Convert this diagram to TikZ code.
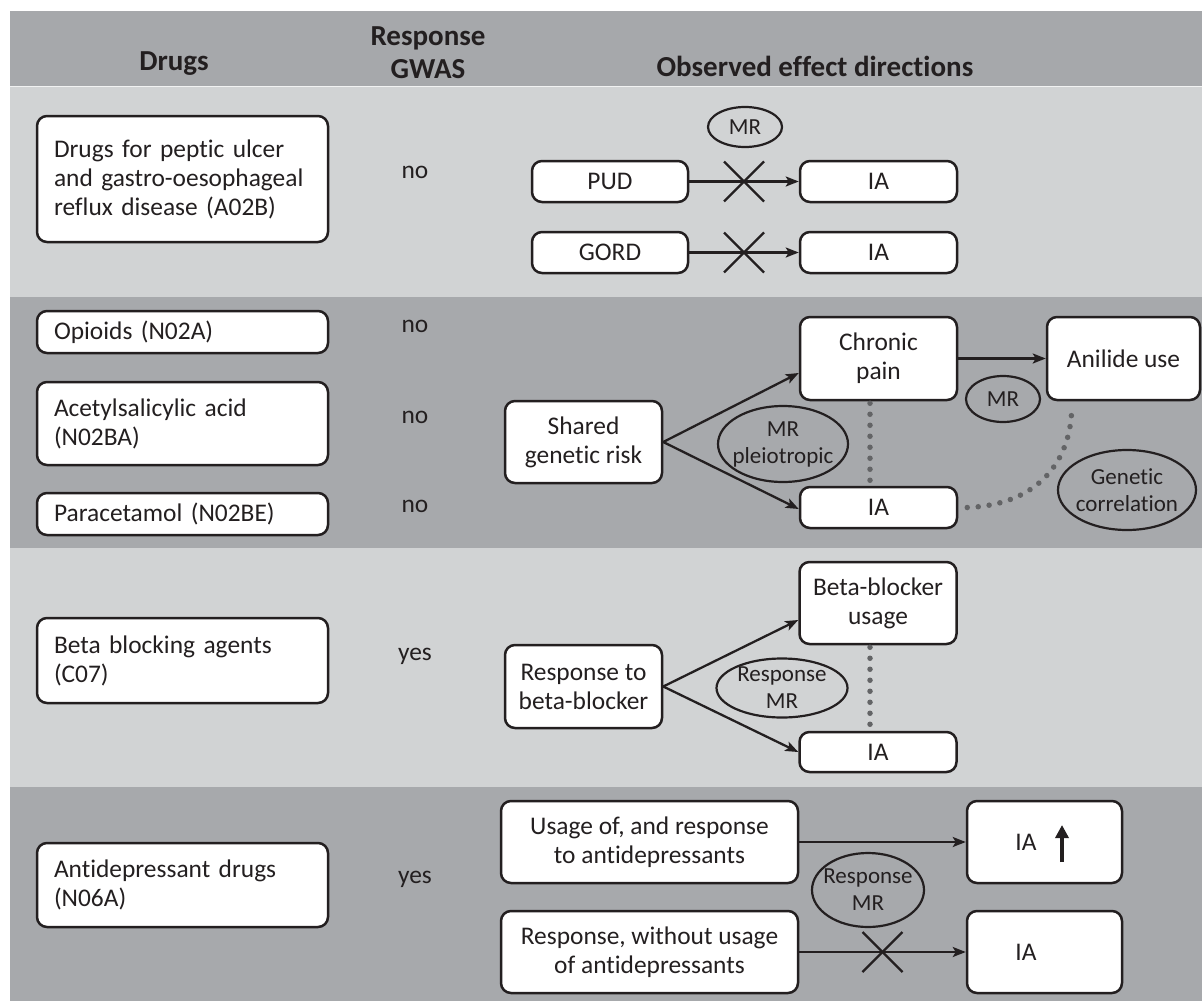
\documentclass[tikz,border=0pt]{standalone}
\usepackage{fontspec}
\setmainfont{Carlito}[Ligatures={NoCommon,NoContextual,NoRare},Contextuals={NoAlternate}]
\usetikzlibrary{arrows.meta,shapes.geometric,calc}
\definecolor{ink}{HTML}{231F20}
\definecolor{lightband}{HTML}{D1D3D4}
\definecolor{darkband}{HTML}{A7A9AC}
\definecolor{headband}{HTML}{A6A8AB}
\definecolor{dotgray}{HTML}{636466}
\begin{document}
\begin{tikzpicture}[x=1pt,y=-1pt,
  box/.style={draw=ink, line width=2.5pt, fill=white, rounded corners=10pt, inner sep=0pt, align=center, text=ink, font=\fontsize{25.4}{29}\selectfont},
  drugbox/.style={box, align=left, minimum width=291pt, text width=257pt},
  ell/.style={draw=ink, line width=2.2pt, ellipse, inner sep=-20pt, align=center, text=ink, font=\fontsize{23}{27}\selectfont},
  arr/.style={draw=ink, line width=2.3pt, -{Stealth[length=13pt,width=10pt,inset=3pt]}},
  dots/.style={draw=dotgray, line width=5.5pt, line cap=round, dash pattern=on 0pt off 11pt},
  cross/.style={draw=ink, line width=2.2pt},
  hdr/.style={font=\bfseries\fontsize{29}{32}\selectfont, text=ink, anchor=base},
  ans/.style={font=\fontsize{25.4}{29}\selectfont, text=ink, anchor=base},
  lbl/.style={font=\fontsize{25.4}{29}\selectfont, text=ink},
]
% background and bands
\fill[white] (0,0) rectangle (1202,1001);
\useasboundingbox (0,0) rectangle (1202,1001);
\fill[headband] (10,11) rectangle (1202,86);
\fill[lightband] (10,86) rectangle (1202,297);
\fill[darkband] (10,297) rectangle (1202,548);
\fill[lightband] (10,548) rectangle (1202,787);
\fill[darkband] (10,787) rectangle (1202,1001);
\draw[white!70!lightband, line width=1.2pt] (10,86.6) -- (1202,86.6);

% header
\node[hdr] (hdrug) at (174,70) {Drugs};
\node[hdr] (hresp) at (428,45) {Response};
\node[hdr] (hgwas) at (428,78) {GWAS};
\node[hdr] (hobs) at (815,76) {Observed effect directions};

% drug column
\node[drugbox, minimum height=126pt] (d1) at (182.5,179) {Drugs for peptic ulcer\\and gastro-oesophageal\\reflux disease (A02B)};
\node[drugbox, minimum height=42pt] (d2) at (182.5,332) {Opioids (N02A)};
\node[drugbox, minimum height=83pt] (d3) at (182.5,423.5) {Acetylsalicylic acid\\(N02BA)};
\node[drugbox, minimum height=42pt] (d4) at (182.5,514) {Paracetamol (N02BE)};
\node[drugbox, minimum height=85pt] (d5) at (182.5,660.5) {Beta blocking agents\\(C07)};
\node[drugbox, minimum height=84pt] (d6) at (182.5,885) {Antidepressant drugs\\(N06A)};

% GWAS column
\node[ans] (a1) at (415,178) {no};
\node[ans] (a2) at (415,332) {no};
\node[ans] (a3) at (415,423) {no};
\node[ans] (a4) at (415,512) {no};
\node[ans] (a5) at (415,660) {yes};
\node[ans] (a6) at (415,883) {yes};

% band 1
\node[box, minimum width=156pt, minimum height=41pt] (pud) at (610,181.5) {PUD};
\node[box, minimum width=157pt, minimum height=41pt] (ia1) at (878.5,181.5) {IA};
\node[box, minimum width=156pt, minimum height=41pt] (gord) at (610,252.5) {GORD};
\node[box, minimum width=157pt, minimum height=41pt] (ia2) at (878.5,252.5) {IA};
\node[ell, minimum width=74pt, minimum height=40pt] (mr1) at (745,127) {MR};
\draw[arr] (pud) -- (ia1);
\draw[arr] (gord) -- (ia2);
\coordinate (x1) at ($(pud.east)!0.5!(ia1.west)$);
\coordinate (x2) at ($(gord.east)!0.5!(ia2.west)$);
\draw[cross] ([shift={(-20,-20)}]x1) -- ([shift={(20,20)}]x1);
\draw[cross] ([shift={(-20,20)}]x1) -- ([shift={(20,-20)}]x1);
\draw[cross] ([shift={(-20,-20)}]x2) -- ([shift={(20,20)}]x2);
\draw[cross] ([shift={(-20,20)}]x2) -- ([shift={(20,-20)}]x2);

% band 2
\node[box, minimum width=157pt, minimum height=82pt] (sgr) at (583.5,442) {Shared\\genetic risk};
\node[box, minimum width=157pt, minimum height=83pt] (cp) at (878.5,358.5) {Chronic\\pain};
\node[box, minimum width=153pt, minimum height=83pt] (an) at (1123.5,358.5) {Anilide use};
\node[box, minimum width=157pt, minimum height=41pt] (ia3) at (878.5,507.5) {IA};
\node[ell, minimum width=130pt, minimum height=76pt] (mrp) at (783,444) {MR\\pleiotropic};
\node[ell, minimum width=74pt, minimum height=46pt] (mr2) at (1003,399) {MR};
\node[ell, minimum width=138pt, minimum height=80pt] (gc) at (1127,490) {Genetic\\correlation};
\draw[arr] (sgr.east) -- ([yshift=-14.5pt]cp.west);
\draw[arr] (sgr.east) -- ([yshift=-1.5pt]ia3.west);
\draw[arr] (cp.east) -- (an.west);
\draw[dots] ([xshift=-8.5pt,yshift=-2pt]cp.south) -- ([xshift=-8.5pt,yshift=5pt]ia3.north);
\draw[dots] ([xshift=9pt]ia3.east) .. controls (1035,505) and (1068,465) .. ([shift={(-52,13)}]an.south);

% band 3
\node[box, minimum width=157pt, minimum height=83pt] (rbb) at (583.5,686.5) {Response to\\beta-blocker};
\node[box, minimum width=157pt, minimum height=82pt] (bbu) at (878,603) {Beta-blocker\\usage};
\node[box, minimum width=157pt, minimum height=40pt] (ia4) at (878,752) {IA};
\node[ell, minimum width=131pt, minimum height=59pt] (rmr) at (782,688) {Response\\MR};
\draw[arr] (rbb.east) -- ([yshift=-17pt]bbu.west);
\draw[arr] (rbb.east) -- (ia4.west);
\draw[dots] ([xshift=-8pt,yshift=-2pt]bbu.south) -- ([xshift=-8pt,yshift=5pt]ia4.north);

% band 4
\node[box, minimum width=297pt, minimum height=82pt] (uo) at (649.5,842) {Usage of, and response\\to antidepressants};
\node[box, minimum width=297pt, minimum height=82pt] (rw) at (649.5,952) {Response, without usage\\of antidepressants};
\node[box, minimum width=155pt, minimum height=82pt] (iau) at (1044.5,842) {};
\node[box, minimum width=155pt, minimum height=82pt] (iad) at (1044.5,952) {};
\node[lbl] (iaut) at (1026,842) {IA};
\node[lbl] (iadt) at (1026,952) {IA};
\draw[ink, line width=4pt, -{Triangle[length=13pt,width=13pt]}] ([shift={(17.5,20)}]iau.center) -- ([shift={(17.5,-17)}]iau.center);
\node[ell, minimum width=112pt, minimum height=74pt] (rmr2) at (868,890) {Response\\MR};
\draw[arr] (uo) -- (iau);
\draw[arr] (rw) -- (iad);
\coordinate (x3) at ($(rw.east)!0.5!(iad.west)$);
\draw[cross] ([shift={(-20,-20)}]x3) -- ([shift={(20,20)}]x3);
\draw[cross] ([shift={(-20,20)}]x3) -- ([shift={(20,-20)}]x3);
\end{tikzpicture}
\end{document}
